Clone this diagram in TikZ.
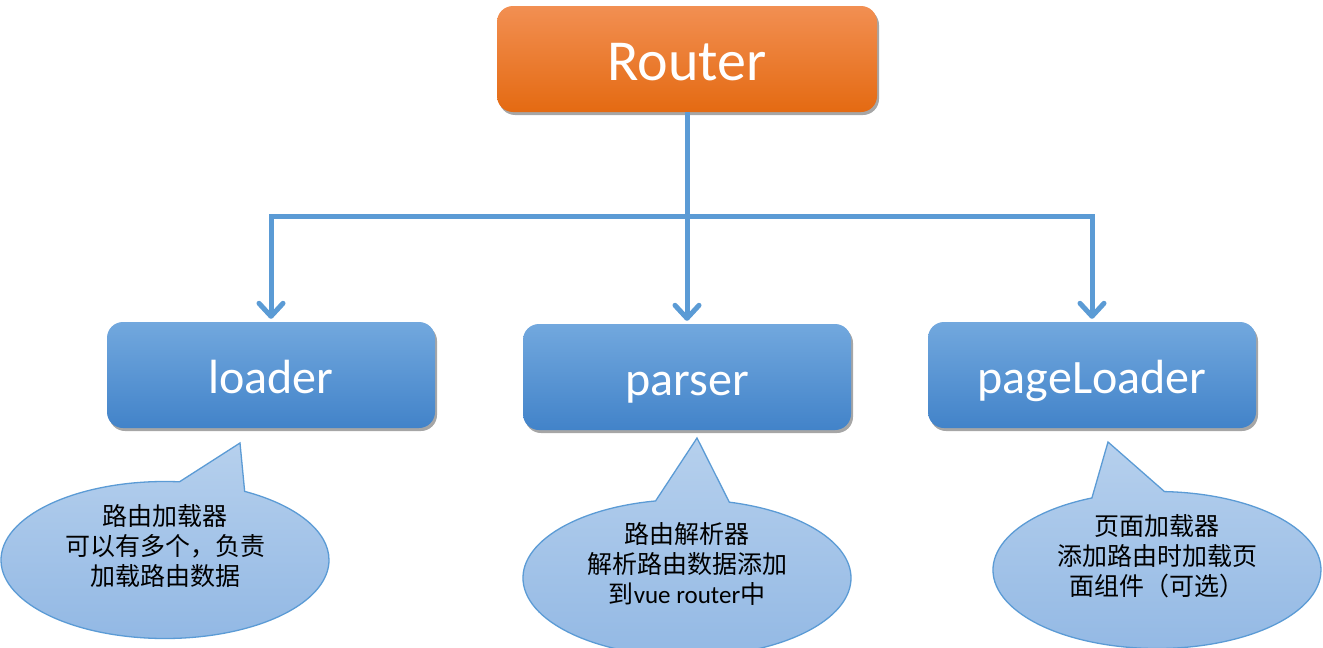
\documentclass[tikz,border=0pt]{standalone}
\usepackage{fontspec}
\setmainfont{Carlito}
\newfontfamily\cjk{Noto Sans CJK SC}
\usetikzlibrary{arrows.meta,shapes.callouts,shadows}

\definecolor{routertop}{RGB}{242,143,82}
\definecolor{routerbot}{RGB}{228,106,18}
\definecolor{moduletop}{RGB}{114,168,222}
\definecolor{modulebot}{RGB}{66,131,201}
\definecolor{notetop}{RGB}{182,208,237}
\definecolor{notebot}{RGB}{146,184,228}
\definecolor{noteline}{RGB}{91,155,213}
\definecolor{linkblue}{RGB}{91,155,213}

\tikzset{
  root/.style={rounded corners=16pt, minimum width=380pt, minimum height=106pt,
    top color=routertop, bottom color=routerbot, text=white,
    font=\fontsize{58}{60}\selectfont, text height=46pt, text depth=4pt,
    drop shadow={shadow xshift=2pt, shadow yshift=-3pt, opacity=0.35, fill=black}},
  module/.style={rounded corners=16pt, minimum width=328pt, minimum height=106pt,
    top color=moduletop, bottom color=modulebot, text=white,
    font=\fontsize{48}{50}\selectfont, text height=40pt, text depth=4pt,
    drop shadow={shadow xshift=2pt, shadow yshift=-3pt, opacity=0.35, fill=black}},
  note/.style={ellipse callout, draw=noteline, line width=1.3pt,
    top color=notetop, bottom color=notebot,
    minimum width=328pt, minimum height=130pt, inner sep=0pt,
    align=center, font=\cjk\fontsize{25}{30}\selectfont, text depth=30pt},
  link/.style={draw=linkblue, line width=5pt},
  flow/.style={link, -{Straight Barb[length=13pt,width=24pt,round]}, shorten >=3pt}
}

\begin{document}
\begin{tikzpicture}[x=1pt,y=-1pt]
  \useasboundingbox[fill=white] (0,0) rectangle (1323,648);

  % the router and its three parts
  \node[root] (router) at (687,59) {Router};
  \node[module] (loader) at (271,375) {loader};
  \node[module] (parser) at (687,377) {parser};
  \node[module] (page) at (1092,375) {pageLoader};

  % the tree of connectors
  \coordinate (split) at (687,216);
  \draw[link] (router.south) -- (split);
  \draw[flow] (split) -| (loader.north);
  \draw[flow] (split) -- (parser.north);
  \draw[flow] (split) -| (page.north);

  % the notes below each part
  \coordinate (loadtip) at (240,443);
  \coordinate (parsetip) at (697,438);
  \coordinate (pagetip) at (1108,442);
  \node[note, callout absolute pointer={(loadtip)}, callout pointer arc=24] (loadnote) at (165,560)
    {路由加载器\\可以有多个，负责\\加载路由数据};
  \node[note, minimum height=124pt, callout absolute pointer={(parsetip)}, callout pointer arc=26] (parsenote) at (687,578)
    {路由解析器\\解析路由数据添加\\到{\rmfamily vue router}中};
  \node[note, callout absolute pointer={(pagetip)}, callout pointer arc=26] (pagenote) at (1157,570)
    {页面加载器\\添加路由时加载页\\面组件（可选）};
\end{tikzpicture}
\end{document}
